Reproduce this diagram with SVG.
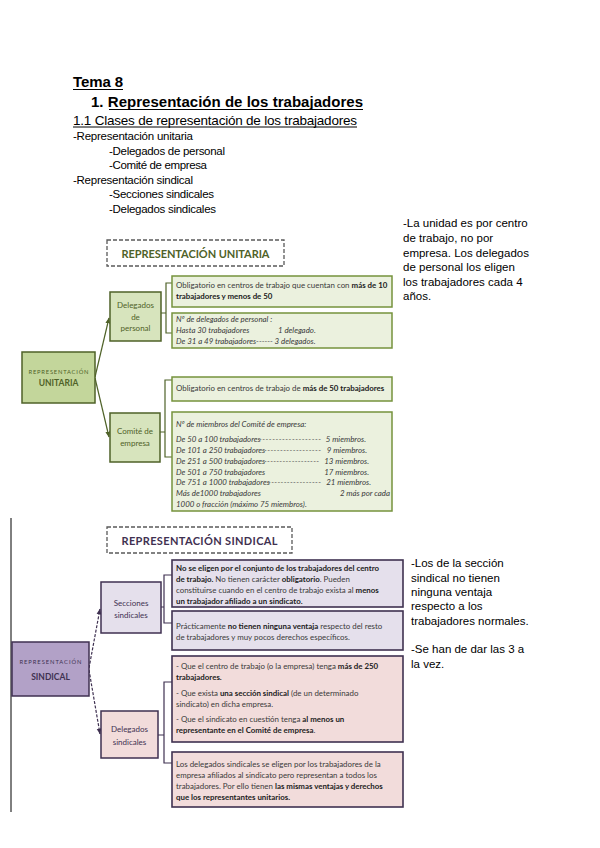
<svg xmlns="http://www.w3.org/2000/svg" width="600" height="848" viewBox="0 0 600 848">
<style>
.h{font-family:"Liberation Sans",Arial,sans-serif;fill:#000}
.b{font-family:Lato,"Open Sans",sans-serif;font-size:7.9px;fill:#3a3a3a}
.bi{font-style:italic}
.bd{font-weight:bold;fill:#222}
.r{text-anchor:end}
.gtxt{font-family:Lato,sans-serif;fill:#4f6228;text-anchor:middle}
.ptxt{font-family:Lato,sans-serif;fill:#3f3151;text-anchor:middle}
.hdr{fill:#fff;stroke:#595959;stroke-width:1.3;stroke-dasharray:4 2}
.gbox{fill:#ebf1de;stroke:#76923c;stroke-width:1.5}
.gnode{fill:#d7e4bd;stroke:#4f6228;stroke-width:1.5}
.pbox{fill:#e5e0ec;stroke:#3f3151;stroke-width:1.6}
.pkbox{fill:#f2dcdb;stroke:#3f3151;stroke-width:1.6}
.gline{fill:none;stroke:#4f6228;stroke-width:1.2}
.pline{fill:none;stroke:#3f3151;stroke-width:1.2}
.ul{stroke:#000;stroke-width:1}
</style>
<defs>
<marker id="ag" viewBox="0 0 10 10" refX="9" refY="5" markerWidth="5" markerHeight="5" orient="auto"><path d="M0,1 L10,5 L0,9 z" fill="#4f6228"/></marker>
<marker id="ap" viewBox="0 0 10 10" refX="9" refY="5" markerWidth="5" markerHeight="5" orient="auto"><path d="M0,1 L10,5 L0,9 z" fill="#3f3151"/></marker>
</defs>
<rect width="600" height="848" fill="#fff"/>

<g id="title">
<text class="h" x="73" y="87" font-size="15" font-weight="bold" textLength="50">Tema 8</text>
<line class="ul" x1="73" y1="89.5" x2="123" y2="89.5"/>
<text class="h" x="91" y="107" font-size="15" font-weight="bold" textLength="272">1. Representación de los trabajadores</text>
<line class="ul" x1="109" y1="109.5" x2="363" y2="109.5"/>
<text class="h" x="73" y="125" font-size="13.5" textLength="284">1.1 Clases de representación de los trabajadores</text>
<line class="ul" x1="73" y1="127" x2="357" y2="127"/>
<text class="h" x="73" y="140" font-size="11.5" textLength="120">-Representación unitaria</text>
<text class="h" x="109" y="155" font-size="11.5" textLength="116">-Delegados de personal</text>
<text class="h" x="109" y="169" font-size="11.5" textLength="98">-Comité de empresa</text>
<text class="h" x="73" y="184" font-size="11.5" textLength="120">-Representación sindical</text>
<text class="h" x="109" y="198" font-size="11.5" textLength="105">-Secciones sindicales</text>
<text class="h" x="109" y="213" font-size="11.5" textLength="107">-Delegados sindicales</text>
</g>

<g id="note-unitaria" class="h" font-size="11.5">
<text x="403" y="227">-La unidad es por centro</text>
<text x="403" y="242">de trabajo, no por</text>
<text x="403" y="257">empresa. Los delegados</text>
<text x="403" y="271">de personal los eligen</text>
<text x="403" y="286">los trabajadores cada 4</text>
<text x="403" y="300">años.</text>
</g>

<g id="connectors">
<line class="gline" x1="95" y1="377" x2="109" y2="318" marker-end="url(#ag)"/>
<line class="gline" x1="95" y1="378" x2="109" y2="437" marker-end="url(#ag)"/>
<path class="gline" d="M161,313 H166 M172,283 H166 V333 H172"/>
<path class="gline" d="M160,432 H165 M172,380 H165 V457 H172"/>
<line class="pline" x1="89" y1="668" x2="100" y2="609" stroke-dasharray="3 1.5" marker-end="url(#ap)"/>
<line class="pline" x1="89" y1="670" x2="100" y2="734" stroke-dasharray="3 1.5" marker-end="url(#ap)"/>
<path class="pline" d="M161,607 H164 M172,575 H164 V623 H172"/>
<path class="pline" d="M158,735 H164 M172,682 H164 V763 H172"/>
<line x1="11" y1="518" x2="11" y2="812" stroke="#000" stroke-width="1"/>
</g>

<g id="hdr-unitaria">
<rect class="hdr" x="107" y="240" width="177" height="26"/>
<text class="gtxt" x="195.5" y="258" font-size="11" font-weight="bold" textLength="148">REPRESENTACIÓN UNITARIA</text>
</g>

<g id="root-unitaria">
<rect x="22" y="352" width="73" height="51" fill="#c3d69b" stroke="#4f6228" stroke-width="1.5"/>
<text class="gtxt" x="58.5" y="374" font-size="5.8" textLength="60">REPRESENTACIÓN</text>
<text class="gtxt" x="58.5" y="386" font-size="8.5" font-weight="bold">UNITARIA</text>
</g>

<g id="delegados-personal">
<rect class="gnode" x="110" y="292" width="51" height="49"/>
<text class="gtxt" x="135.5" y="308" font-size="8">Delegados</text>
<text class="gtxt" x="135.5" y="319.5" font-size="8">de</text>
<text class="gtxt" x="135.5" y="331" font-size="8">personal</text>
</g>

<g id="comite-empresa">
<rect class="gnode" x="110" y="413" width="50" height="49"/>
<text class="gtxt" x="135" y="434" font-size="8">Comité de</text>
<text class="gtxt" x="135" y="446" font-size="8">empresa</text>
</g>

<g id="box-dp1">
<rect class="gbox" x="172" y="276" width="220" height="31"/>
<text class="b" x="176" y="288">Obligatorio en centros de trabajo que cuentan con <tspan class="bd">más de 10</tspan></text>
<text class="b" x="176" y="299"><tspan class="bd">trabajadores y menos de 50</tspan></text>
</g>

<g id="box-dp2">
<rect class="gbox" x="172" y="313" width="220" height="35"/>
<text class="b bi" x="176" y="322">Nº de delegados de personal :</text>
<text class="b bi" x="176" y="333">Hasta 30 trabajadores</text>
<text class="b bi" x="278" y="333">1 delegado.</text>
<text class="b bi" x="176" y="344">De 31 a 49 trabajadores------ 3 delegados.</text>
</g>

<g id="box-ce1">
<rect class="gbox" x="172" y="377" width="220" height="24"/>
<text class="b" x="176" y="391">Obligatorio en centros de trabajo de <tspan class="bd">más de 50 trabajadores</tspan></text>
</g>

<g id="box-ce2">
<rect class="gbox" x="172" y="412" width="220" height="99"/>
<g class="b bi">
<text x="176" y="427">Nº de miembros del Comité de empresa:</text>
<text x="176" y="442">De 50 a 100 trabajadores</text>
<text x="259" y="442" textLength="62" lengthAdjust="spacing">-------------------</text>
<text class="r" x="366" y="442">5 miembros.</text>
<text x="176" y="453">De 101 a 250 trabajadores</text>
<text x="264" y="453" textLength="57" lengthAdjust="spacing">------------------</text>
<text class="r" x="367" y="453">9 miembros.</text>
<text x="176" y="464">De 251 a 500 trabajadores</text>
<text x="264" y="464" textLength="55" lengthAdjust="spacing">------------------</text>
<text class="r" x="369" y="464">13 miembros.</text>
<text x="176" y="475">De 501 a 750 trabajadores</text>
<text class="r" x="369" y="475">17 miembros.</text>
<text x="176" y="485">De 751 a 1000 trabajadores</text>
<text x="268" y="485" textLength="53" lengthAdjust="spacing">-----------------</text>
<text class="r" x="371" y="485">21 miembros.</text>
<text x="176" y="496">Más de1000 trabajadores</text>
<text class="r" x="390" y="496">2 más por cada</text>
<text x="176" y="507">1000 o fracción (máximo 75 miembros).</text>
</g>
</g>

<g id="hdr-sindical">
<rect class="hdr" x="107" y="527" width="185" height="26"/>
<text class="ptxt" x="199.5" y="545" font-size="11" font-weight="bold" textLength="156">REPRESENTACIÓN SINDICAL</text>
</g>

<g id="root-sindical">
<rect x="12" y="642" width="77" height="54" fill="#b2a1c7" stroke="#3f3151" stroke-width="1.5"/>
<text class="ptxt" x="50.5" y="664" font-size="5.8" textLength="62">REPRESENTACIÓN</text>
<text class="ptxt" x="50.5" y="680" font-size="8.5" font-weight="bold">SINDICAL</text>
</g>

<g id="secciones-sindicales">
<rect x="101" y="582" width="60" height="51" fill="#e5e0ec" stroke="#3f3151" stroke-width="1.5"/>
<text class="ptxt" x="131" y="606" font-size="8">Secciones</text>
<text class="ptxt" x="131" y="618" font-size="8">sindicales</text>
</g>

<g id="delegados-sindicales">
<rect x="101" y="711" width="57" height="47" fill="#f2dcdb" stroke="#3f3151" stroke-width="1.5"/>
<text class="ptxt" x="129.5" y="732" font-size="8">Delegados</text>
<text class="ptxt" x="129.5" y="745" font-size="8">sindicales</text>
</g>

<g id="box-ss1">
<rect class="pbox" x="172" y="560" width="231" height="47"/>
<text class="b" x="176" y="571"><tspan class="bd">No se eligen por el conjunto de los trabajadores del centro</tspan></text>
<text class="b" x="176" y="582"><tspan class="bd">de trabajo.</tspan> No tienen carácter <tspan class="bd">obligatorio</tspan>. Pueden</text>
<text class="b" x="176" y="593">constituirse cuando en el centro de trabajo exista al <tspan class="bd">menos</tspan></text>
<text class="b" x="176" y="604"><tspan class="bd">un trabajador afiliado a un sindicato.</tspan></text>
</g>

<g id="box-ss2">
<rect class="pbox" x="172" y="611" width="231" height="39"/>
<text class="b" x="176" y="629">Prácticamente <tspan class="bd">no tienen ninguna ventaja</tspan> respecto del resto</text>
<text class="b" x="176" y="640">de trabajadores y muy pocos derechos específicos.</text>
</g>

<g id="box-ds1">
<rect class="pkbox" x="172" y="656" width="231" height="86"/>
<text class="b" x="176" y="669">- Que el centro de trabajo (o la empresa) tenga <tspan class="bd">más de 250</tspan></text>
<text class="b" x="176" y="680"><tspan class="bd">trabajadores.</tspan></text>
<text class="b" x="176" y="696">- Que exista <tspan class="bd">una sección sindical</tspan> (de un determinado</text>
<text class="b" x="176" y="707">sindicato) en dicha empresa.</text>
<text class="b" x="176" y="722">- Que el sindicato en cuestión tenga <tspan class="bd">al menos un</tspan></text>
<text class="b" x="176" y="733"><tspan class="bd">representante en el Comité de empresa</tspan>.</text>
</g>

<g id="box-ds2">
<rect class="pkbox" x="172" y="752" width="231" height="55"/>
<text class="b" x="176" y="767">Los delegados sindicales se eligen por los trabajadores de la</text>
<text class="b" x="176" y="778">empresa afiliados al sindicato pero representan a todos los</text>
<text class="b" x="176" y="789">trabajadores. Por ello tienen <tspan class="bd">las mismas ventajas y derechos</tspan></text>
<text class="b" x="176" y="800"><tspan class="bd">que los representantes unitarios.</tspan></text>
</g>

<g id="note-sindical" class="h" font-size="11.5">
<text x="411" y="567">-Los de la sección</text>
<text x="411" y="582">sindical no tienen</text>
<text x="411" y="596">ninguna ventaja</text>
<text x="411" y="610">respecto a los</text>
<text x="411" y="625">trabajadores normales.</text>
<text x="411" y="653">-Se han de dar las 3 a</text>
<text x="411" y="668">la vez.</text>
</g>
</svg>
